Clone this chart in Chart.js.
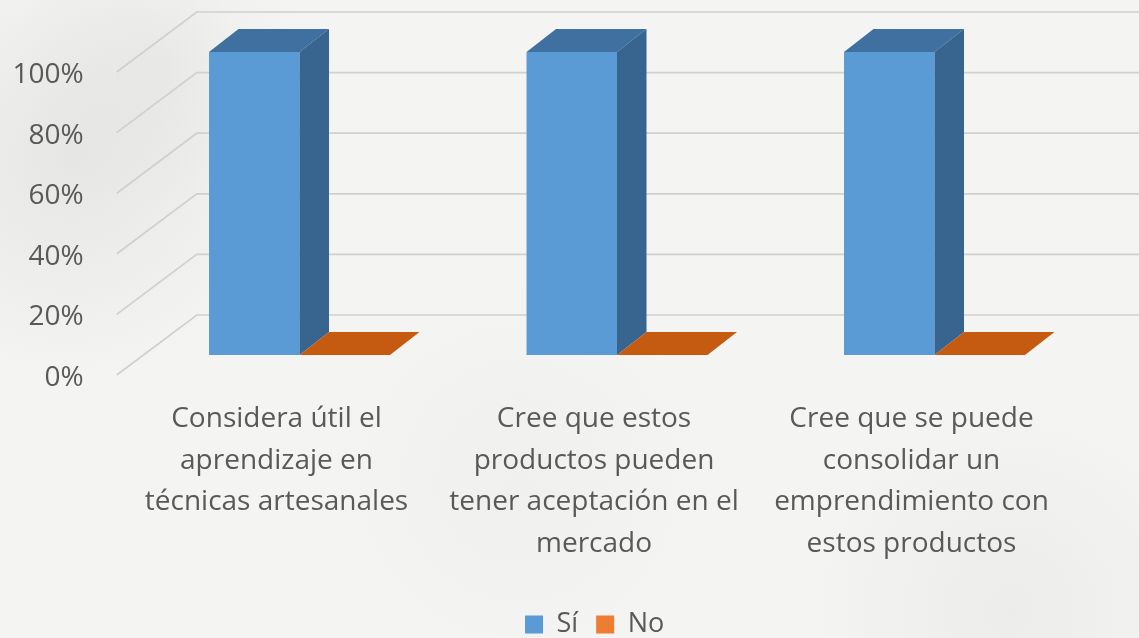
<!DOCTYPE html>
<html lang="es">
<head>
<meta charset="utf-8">
<title>Percepción sobre las técnicas artesanales</title>
<script src="https://cdn.jsdelivr.net/npm/chart.js@4/dist/chart.umd.min.js"></script>
<style>
  html, body { margin: 0; padding: 0; background: #f4f4f2; }
  #wrap { width: 1139px; height: 638px; }
</style>
</head>
<body>
<div id="wrap"><canvas id="grafico" width="1139" height="638"></canvas></div>
<script>
// Categorías (cada una partida en líneas) y valores de cada serie, en %
const categorias = [
  ['Considera útil el', 'aprendizaje en', 'técnicas artesanales'],
  ['Cree que estos', 'productos pueden', 'tener aceptación en el', 'mercado'],
  ['Cree que se puede', 'consolidar un', 'emprendimiento con', 'estos productos']
];
const serieSi = [100, 100, 100];
const serieNo = [0, 0, 0];
const marcasEje = [0, 20, 40, 60, 80, 100];

const TEXTO = '#595959';
const FUENTE = "'Open Sans', 'Noto Sans', sans-serif";
const FONDO_PLANO = 355; // píxel inferior del área de barras

// Fondo, paredes en perspectiva y caras superior/lateral de las barras
const profundidad = {
  id: 'profundidad',
  afterLayout(chart, args, o) {
    // desplaza la leyenda bajo el centro del gráfico
    const l = chart.legend;
    if (l) {
      l.left += o.leyenda.x; l.right += o.leyenda.x;
      l.top += o.leyenda.y; l.bottom += o.leyenda.y;
    }
  },
  beforeDraw(chart) {
    const { ctx, width, height } = chart;
    ctx.save();
    ctx.fillStyle = '#f4f4f2';
    ctx.fillRect(0, 0, width, height);
    const sombras = [
      [70, 160, 220, 'rgba(110,110,105,0.10)'],
      [160, 60, 150, 'rgba(110,110,105,0.05)'],
      [1010, 610, 210, 'rgba(110,110,105,0.06)'],
      [520, 480, 200, 'rgba(110,110,105,0.03)']
    ];
    sombras.forEach(([cx, cy, r, c]) => {
      const g = ctx.createRadialGradient(cx, cy, 0, cx, cy, r);
      g.addColorStop(0, c);
      g.addColorStop(1, 'rgba(110,110,105,0)');
      ctx.fillStyle = g;
      ctx.fillRect(0, 0, width, height);
    });
    ctx.restore();
  },
  beforeDatasetsDraw(chart, args, o) {
    const { ctx, chartArea, scales: { y } } = chart;
    ctx.save();
    ctx.strokeStyle = o.colorRejilla;
    ctx.lineWidth = o.grosorRejilla;
    y.ticks.forEach(t => {
      const p = y.getPixelForValue(t.value);
      const fx = chartArea.left + o.paredFrente.x, fy = p + o.paredFrente.y;
      const bx = chartArea.left + o.paredFondo.x, by = p + o.paredFondo.y;
      ctx.beginPath();
      ctx.moveTo(fx, fy);
      ctx.lineTo(bx, by);
      ctx.lineTo(chart.width, by);
      ctx.stroke();
    });
    ctx.restore();
  },
  afterDatasetsDraw(chart, args, o) {
    const { ctx } = chart;
    const dx = o.fondoBarra.x, dy = o.fondoBarra.y;
    ctx.save();
    chart.data.datasets.forEach((ds, i) => {
      const meta = chart.getDatasetMeta(i);
      if (meta.hidden) return;
      const tono = o.tonos[i];
      meta.data.forEach(bar => {
        const { x, y, base, width } = bar.getProps(['x', 'y', 'base', 'width'], true);
        const x0 = x - width / 2, x1 = x + width / 2;
        // cara superior
        ctx.fillStyle = tono.arriba;
        ctx.beginPath();
        ctx.moveTo(x0, y);
        ctx.lineTo(x1, y);
        ctx.lineTo(x1 + dx, y - dy);
        ctx.lineTo(x0 + dx, y - dy);
        ctx.closePath();
        ctx.fill();
        // cara lateral
        if (base - y > 0.5) {
          ctx.fillStyle = tono.lado;
          ctx.beginPath();
          ctx.moveTo(x1, y);
          ctx.lineTo(x1 + dx, y - dy);
          ctx.lineTo(x1 + dx, base - dy);
          ctx.lineTo(x1, base);
          ctx.closePath();
          ctx.fill();
        }
      });
    });
    ctx.restore();
  }
};

new Chart(document.getElementById('grafico'), {
  type: 'bar',
  data: {
    labels: categorias,
    datasets: [
      { label: 'Sí', data: serieSi, backgroundColor: '#5b9bd5', borderWidth: 0 },
      { label: 'No', data: serieNo, backgroundColor: '#ed7d31', borderWidth: 0 }
    ]
  },
  options: {
    responsive: false,
    animation: false,
    layout: { padding: { top: 52, left: 0, right: 45.75, bottom: 0 } },
    categoryPercentage: 0.57,
    barPercentage: 1.0,
    scales: {
      x: {
        grid: { display: false, drawTicks: false },
        border: { display: false },
        ticks: {
          autoSkip: false,
          maxRotation: 0,
          padding: 43,
          labelOffset: -23,
          color: TEXTO,
          font: { family: FUENTE, size: 28, lineHeight: 1.49 }
        },
        afterFit(scale) {
          const leyenda = scale.chart.legend ? scale.chart.legend.height : 40;
          scale.height = scale.chart.height - FONDO_PLANO - leyenda;
        }
      },
      y: {
        min: 0,
        max: 100,
        grid: { display: false, drawTicks: false },
        border: { display: false },
        afterBuildTicks(scale) {
          scale.ticks = marcasEje.map(v => ({ value: v }));
        },
        ticks: {
          padding: 57,
          labelOffset: 23,
          color: TEXTO,
          font: { family: FUENTE, size: 28 },
          callback: v => v + '%'
        },
        afterFit(scale) {
          scale.width = 140.75;
          scale.paddingTop = 0;
          scale.paddingBottom = 0;
        }
      }
    },
    plugins: {
      legend: {
        position: 'bottom',
        labels: {
          color: TEXTO,
          font: { family: FUENTE, size: 27 },
          boxWidth: 18,
          boxHeight: 18,
          padding: 18
        }
      },
      tooltip: { enabled: false },
      profundidad: {
        leyenda: { x: 48, y: 10 },
        colorRejilla: '#d0d0ce',
        grosorRejilla: 1.7,
        paredFrente: { x: -24, y: 20 },
        paredFondo: { x: 56, y: -40 },
        fondoBarra: { x: 29.5, y: 23 },
        tonos: [
          { arriba: '#3f70a0', lado: '#37658f' },
          { arriba: '#c55a11', lado: '#a84c0e' }
        ]
      }
    }
  },
  plugins: [profundidad]
});
</script>
</body>
</html>
